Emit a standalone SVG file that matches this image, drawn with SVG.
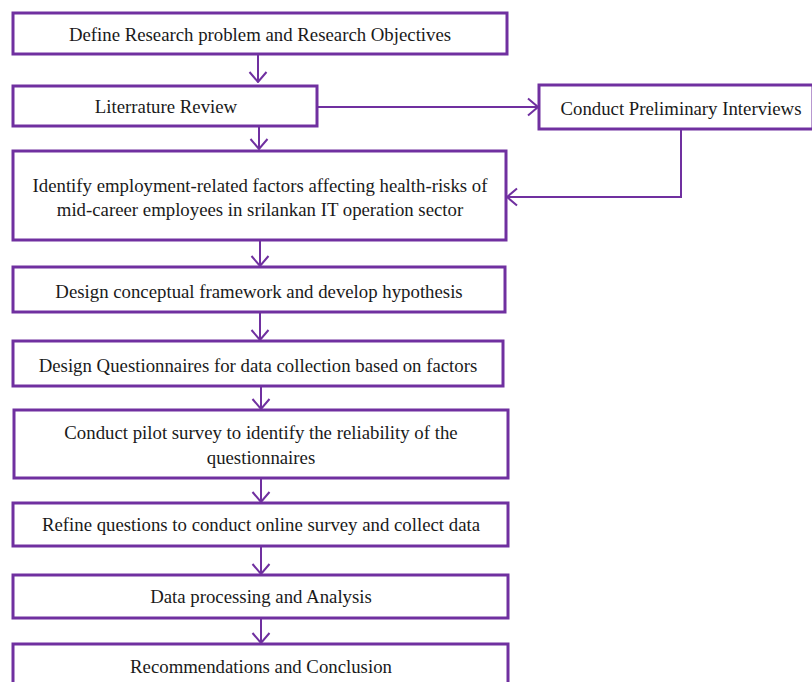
<svg xmlns="http://www.w3.org/2000/svg" width="812" height="682" viewBox="0 0 812 682">
<defs>
<style>
.box{fill:#fff;stroke:#7030A0;stroke-width:3}
.t{font-family:"Liberation Serif","Times New Roman",serif;font-size:18.8px;fill:#1a1a1a;text-anchor:middle}
.c{fill:none;stroke:#7030A0;stroke-width:2}
</style>
<marker id="ah" viewBox="0 0 12 20" refX="11" refY="10" markerWidth="12" markerHeight="20" markerUnits="userSpaceOnUse" orient="auto">
<path d="M1,1.5 L11,10 L1,18.5" fill="none" stroke="#7030A0" stroke-width="2"/>
</marker>
</defs>
<rect width="812" height="682" fill="#fff"/>
<g id="connectors">
<line class="c" x1="258" y1="55" x2="258" y2="82" marker-end="url(#ah)"/>
<line class="c" x1="259" y1="127" x2="259" y2="149" marker-end="url(#ah)"/>
<line class="c" x1="318" y1="107" x2="538" y2="107" marker-end="url(#ah)"/>
<polyline class="c" points="681,130 681,197 507,197" marker-end="url(#ah)"/>
<line class="c" x1="260" y1="241" x2="260" y2="266" marker-end="url(#ah)"/>
<line class="c" x1="260" y1="313" x2="260" y2="340" marker-end="url(#ah)"/>
<line class="c" x1="261" y1="387" x2="261" y2="409" marker-end="url(#ah)"/>
<line class="c" x1="261" y1="479" x2="261" y2="502" marker-end="url(#ah)"/>
<line class="c" x1="261" y1="547" x2="261" y2="574" marker-end="url(#ah)"/>
<line class="c" x1="261" y1="619" x2="261" y2="643" marker-end="url(#ah)"/>
</g>
<g id="n1"><rect class="box" x="13" y="13" width="494" height="41"/><text class="t" x="260" y="41">Define Research problem and Research Objectives</text></g>
<g id="n2"><rect class="box" x="13" y="86" width="304" height="40"/><text class="t" x="166" y="113">Literrature Review</text></g>
<g id="n3"><rect class="box" x="539" y="85" width="274" height="44"/><text class="t" x="681" y="115">Conduct Preliminary Interviews</text></g>
<g id="n4"><rect class="box" x="13" y="151" width="493" height="89"/><text class="t" x="260" y="192">Identify employment-related factors affecting health-risks of</text><text class="t" x="260" y="216">mid-career employees in srilankan IT operation sector</text></g>
<g id="n5"><rect class="box" x="13" y="267" width="492" height="45"/><text class="t" x="259" y="298">Design conceptual framework and develop hypothesis</text></g>
<g id="n6"><rect class="box" x="13" y="341" width="490" height="45"/><text class="t" x="258" y="372">Design Questionnaires for data collection based on factors</text></g>
<g id="n7"><rect class="box" x="14" y="410" width="494" height="68"/><text class="t" x="261" y="439">Conduct pilot survey to identify the reliability of the</text><text class="t" x="261" y="464">questionnaires</text></g>
<g id="n8"><rect class="box" x="13" y="503" width="495" height="43"/><text class="t" x="261" y="531">Refine questions to conduct online survey and collect data</text></g>
<g id="n9"><rect class="box" x="13" y="575" width="495" height="43"/><text class="t" x="261" y="603">Data processing and Analysis</text></g>
<g id="n10"><rect class="box" x="13" y="644" width="495" height="50"/><text class="t" x="261" y="673">Recommendations and Conclusion</text></g>
</svg>
